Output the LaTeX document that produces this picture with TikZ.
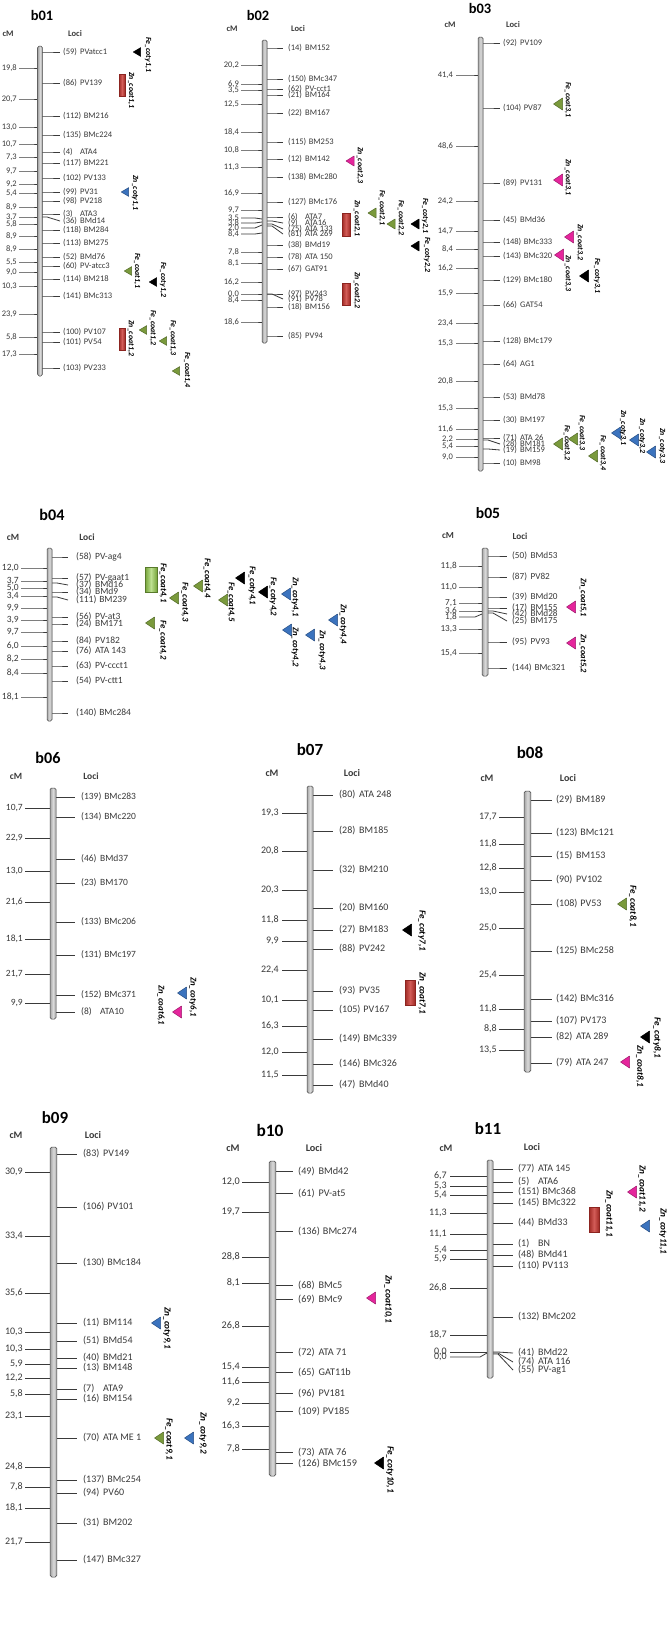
\documentclass[tikz,border=0pt]{standalone}
\usepackage{fontspec}
\setmainfont{Carlito}
\usetikzlibrary{positioning}
\definecolor{inkgray}{HTML}{3A3A3A}
\definecolor{qtlgreen}{HTML}{7A9A3C}
\definecolor{qtlblue}{HTML}{3B73BE}
\definecolor{qtlpink}{HTML}{E5259C}
\definecolor{qtlred}{HTML}{C8342E}
\definecolor{qtllime}{HTML}{92CC47}

% font sizes of one map
\newcommand{\setmapfont}[1]{\def\fsz{#1}\pgfmathsetmacro\fst{1.7*#1}\pgfmathsetmacro\fsq{0.92*#1}}
% locus number, padded
\newcommand{\locnum}[1]{\setbox0=\hbox{(#1)}\ifdim\wd0<1.7em\hbox to 1.7em{(#1)\hfil}\else\box0\fi\hspace{0.3em}}
% cM ticks: label x, tick start, bar left, list yl/yb/a/b
\newcommand{\cmside}[4]{\foreach \yl/\yb/\va/\vb [count=\k] in {#4}{
    \draw[tick] (#2,\yl) -- (#3-7,\yl) -- (#3,\yb);
    \node[cmlab] (cm\mapid-\k) at (#1,\yl) {\va,\vb};}}
% loci ticks: bar right, tick end, label x, list yb/yl/n/name
\newcommand{\locside}[4]{\foreach \yb/\yl/\nn/\nm [count=\k] in {#4}{
    \draw[tick] (#1,\yb) -- (#1+5,\yb) -- (#2,\yl);
    \node[loclab] (loc\mapid-\k) at (#3,\yl) {\locnum{\nn}\nm};}}
\newcommand{\chrom}[4]{\path[chrbar] (#1-#4,#2) rectangle (#1+#4,#3);}
\newcommand{\qtltri}[6]{%
  \filldraw[fill=#3,draw=#3!70!black,line width=0.5pt,line join=round]
    (#1-\trw,#2) -- (#1+\trw,#2-\trh) -- (#1+\trw,#2+\trh) -- cycle;
  \node[qtllab] (q#1-#2) at (#4,#5) {#6};}
\newcommand{\qtlbox}[8]{\path[#5] (#1,#2) rectangle (#3,#4);
  \node[qtllab] (qb#1-#2) at (#6,#7) {#8};}

\begin{document}
\begin{tikzpicture}[x=1pt,y=-1pt,
  mapttl/.style={font=\fontsize{\fst pt}{\fst pt}\selectfont\bfseries,text=black,inner sep=0pt},
  maphdr/.style={font=\fontsize{\fsz pt}{\fsz pt}\selectfont\bfseries,text=inkgray,inner sep=0pt},
  cmlab/.style={font=\fontsize{\fsz pt}{\fsz pt}\selectfont,text=inkgray,inner sep=0pt,anchor=east},
  loclab/.style={font=\fontsize{\fsz pt}{\fsz pt}\selectfont,text=inkgray,inner sep=0pt,anchor=west},
  qtllab/.style={font=\fontsize{\fsq pt}{\fsq pt}\selectfont\bfseries\itshape,text=black,
                 rotate=-90,anchor=west,inner sep=0pt},
  tick/.style={inkgray,line width=0.8pt},
  chrbar/.style={draw=gray!55!black,line width=0.5pt,left color=gray!70,right color=gray!70,
                 middle color=gray!30,rounded corners=1.5pt},
  redbar/.style={draw=qtlred!70!black,line width=0.4pt,left color=qtlred!80!black,
                 right color=qtlred!80!black,middle color=qtlred!80!white},
  limebar/.style={draw=qtllime!60!black,line width=0.4pt,left color=qtllime!80!black,
                 right color=qtllime!80!black,middle color=qtllime!60!white}
]
\useasboundingbox[fill=white] (0,0) rectangle (669,1638);
\def\trw{4.5}\def\trh{6}

% b01
\begin{scope}
\setmapfont{8.5}\def\mapid{b01}\def\trw{3.7}\def\trh{4.4}
\node[mapttl] (ttl-b01) at (42,15) {b01};
\node[maphdr] (cmh-b01) at (8,34) {cM};
\node[maphdr] (loci-b01) at (75,34) {Loci};
\cmside{17}{19}{38}{68/68/19/8, 99/99/20/7, 127/127/13/0, 144/144/10/7, 157/157/7/3,
  171/171/9/7, 184/184/9/2, 193/193/5/4, 207/207/8/9, 217/217/3/7, 224/224/5/8,
  236/236/8/9, 249/249/8/9, 262/262/5/5, 272/272/9/0, 286/286/10/3, 314/314/23/9,
  337/337/5/8, 354/354/17/3}
\locside{42}{60}{63}{52/52/59/PVatcc1, 83/83/86/PV139, 116/116/112/BM216, 135/135/135/BMc224,
  152/152/4/ATA4, 163/163/117/BM221, 178/178/102/PV133, 192/192/99/PV31, 201/201/98/PV218,
  214/214/3/ATA3, 217/221/36/BMd14, 230/230/118/BM284, 243/243/113/BM275, 257/257/52/BMd76,
  266/266/60/PV-atcc3, 279/279/114/BM218, 296/296/141/BMc313, 332/332/100/PV107,
  342/342/101/PV54, 368/368/103/PV233}
\chrom{40}{46}{376}{2.3}
\qtltri{137}{52}{black}{148}{37}{Fe\_coty1,1}
\qtlbox{119}{74}{125}{96}{redbar}{131}{72}{Zn\_coat1,1}
\qtltri{125}{192}{qtlblue}{135}{175}{Zn\_coty1,1}
\qtltri{128}{271}{qtlgreen}{137}{253}{Fe\_coat1,1}
\qtltri{153}{282}{black}{163}{262}{Fe\_coty1,2}
\qtlbox{119}{328}{125}{350}{redbar}{131}{320}{Zn\_coat1,2}
\qtltri{143}{330}{qtlgreen}{153}{310}{Fe\_coat1,2}
\qtltri{163}{341}{qtlgreen}{173}{320}{Fe\_coat1,3}
\qtltri{176}{371}{qtlgreen}{187}{352}{Fe\_coat1,4}
\end{scope}

% b02
\begin{scope}
\setmapfont{8.5}\def\mapid{b02}\def\trw{4}\def\trh{5}
\node[mapttl] (ttl-b02) at (258,15) {b02};
\node[maphdr] (cmh-b02) at (232,29) {cM};
\node[maphdr] (loci-b02) at (298,29) {Loci};
\cmside{239}{241}{262}{65/65/20/2, 84/84/6/9, 90/90/3/5, 104/104/12/5, 132/132/18/4,
  150/150/10/8, 167/167/11/3, 193/193/16/9, 210/210/9/7, 218/219/3/5, 223/222/3/8,
  228/225/2/0, 234/233/8/4, 252/252/7/8, 263/263/8/1, 282/282/16/2, 294/294/0/0,
  300/300/8/4, 322/322/18/6}
\locside{267}{283}{288}{48/48/14/BM152, 79/79/150/BMc347, 89/89/62/PV-cct1, 95/95/21/BM164,
  113/113/22/BM167, 142/142/115/BM253, 159/159/12/BM142, 177/177/138/BMc280,
  202/202/127/BMc176, 217/217/6/ATA7, 221/223/9/ATA16, 224/229/75/ATA 133,
  226/234/81/ATA 269, 245/245/38/BMd19, 257/257/78/ATA 150, 269/269/67/GAT91,
  294/294/97/PV243, 294/299/91/PV78, 307/307/18/BM156, 336/336/85/PV94}
\chrom{264.5}{40}{343}{2.5}
\qtltri{350}{161}{qtlpink}{360}{147}{Zn\_coat2,3}
\qtlbox{342}{213}{350}{236}{redbar}{357}{200}{Zn\_coat2,1}
\qtltri{372}{213}{qtlgreen}{382}{190}{Fe\_coat2,1}
\qtltri{391}{224}{qtlgreen}{401}{200}{Fe\_coat2,2}
\qtltri{415}{224}{black}{425}{198}{Fe\_coty2,1}
\qtltri{415}{246}{black}{427}{237}{Fe\_coty2,2}
\qtlbox{342}{283}{350}{305}{redbar}{357}{272}{Zn\_coat2,2}
\end{scope}

% b03
\begin{scope}
\setmapfont{8.5}\def\mapid{b03}
\node[mapttl] (ttl-b03) at (480,8) {b03};
\node[maphdr] (cmh-b03) at (450,25) {cM};
\node[maphdr] (loci-b03) at (513,25) {Loci};
\cmside{453}{456}{478}{75/75/41/4, 146/146/48/6, 201/201/24/2, 231/231/14/7, 249/249/8/4,
  268/268/16/2, 293/293/15/9, 323/323/23/4, 343/343/15/3, 381/381/20/8, 408/408/15/3,
  429/429/11/6, 439/439/2/2, 446/446/5/4, 457/457/9/0}
\locside{483}{500}{503}{43/43/92/PV109, 108/108/104/PV87, 183/183/89/PV131, 220/220/45/BMd36,
  242/242/148/BMc333, 256/256/143/BMc320, 280/280/129/BMc180, 305/305/66/GAT54,
  341/341/128/BMc179, 364/364/64/AG1, 397/397/53/BMd78, 420/420/30/BM197,
  438/438/71/ATA 26, 440/444/28/BM181, 449/450/19/BM159, 463/463/10/BM98}
\chrom{480.5}{37}{471}{2.5}
\qtltri{558}{104}{qtlgreen}{568}{82}{Fe\_coat3,1}
\qtltri{558}{180}{qtlpink}{568}{159}{Zn\_coat3,1}
\qtltri{569}{237}{qtlpink}{580}{224}{Zn\_coat3,2}
\qtltri{559}{255}{qtlpink}{568}{255}{Zn\_coat3,3}
\qtltri{584}{276}{black}{597}{258}{Fe\_coty3,1}
\qtltri{558}{444}{qtlgreen}{567}{425}{Fe\_coat3,2}
\qtltri{573}{439}{qtlgreen}{582}{415}{Fe\_coat3,3}
\qtltri{593}{456}{qtlgreen}{603}{435}{Fe\_coat3,4}
\qtltri{616}{433}{qtlblue}{623}{410}{Zn\_coty3,1}
\qtltri{634}{440}{qtlblue}{642}{418}{Zn\_coty3,2}
\qtltri{651}{452}{qtlblue}{662}{428}{Zn\_coty3,3}
\end{scope}

% b04
\begin{scope}
\setmapfont{9.5}\def\mapid{b04}
\node[mapttl] (ttl-b04) at (52,515) {b04};
\node[maphdr] (cmh-b04) at (13,537) {cM};
\node[maphdr] (loci-b04) at (87,537) {Loci};
\cmside{19}{21}{47}{568/568/12/0, 581/581/3/7, 588/588/5/0, 596/596/3/4, 608/608/9/9,
  620/620/3/9, 632/632/9/7, 646/646/6/0, 659/659/8/2, 673/673/8/4, 697/697/18/1}
\locside{52}{68}{76}{557/557/58/PV-ag4, 578/578/57/PV-gaat1, 583/585/37/BMd16, 592/592/34/BMd9,
  597/600/111/BM239, 617/617/56/PV-at3, 624/624/24/BM171, 641/641/84/PV182,
  651/651/76/ATA 143, 666/666/63/PV-ccct1, 681/681/54/PV-ctt1, 713/713/140/BMc284}
\chrom{49.5}{548}{721}{2.5}
\qtlbox{145}{567}{157}{592}{limebar}{163}{563}{Fe\_coat4,1}
\qtltri{150}{623}{qtlgreen}{163}{620}{Fe\_coat4,2}
\qtltri{174}{598}{qtlgreen}{185}{582}{Fe\_coat4,3}
\qtltri{198}{586}{qtlgreen}{207}{558}{Fe\_coat4,4}
\qtltri{223}{600}{qtlgreen}{231}{582}{Fe\_coat4,5}
\qtltri{240}{578}{black}{252}{566}{Fe\_coty4,1}
\qtltri{263}{592}{black}{273}{577}{Fe\_coty4,2}
\qtltri{286}{594}{qtlblue}{295}{577}{Zn\_coty4,1}
\qtltri{287}{630}{qtlblue}{295}{627}{Zn\_coty4,2}
\qtltri{310}{635}{qtlblue}{322}{630}{Zn\_coty4,3}
\qtltri{333}{620}{qtlblue}{343}{604}{Zn\_coty4,4}
\end{scope}

% b05
\begin{scope}
\setmapfont{9.2}\def\mapid{b05}
\node[mapttl] (ttl-b05) at (488,513) {b05};
\node[maphdr] (cmh-b05) at (448,536) {cM};
\node[maphdr] (loci-b05) at (520,536) {Loci};
\cmside{457}{459}{482}{566/566/11/8, 587/587/11/0, 603/603/7/1, 611/611/3/6, 617/614/1/8,
  629/629/13/3, 653/653/15/4}
\locside{488}{507}{512}{556/556/50/BMd53, 577/577/87/PV82, 597/597/39/BMd20, 608/608/17/BM155,
  611/614/42/BMd28, 613/621/25/BM175, 642/642/95/PV93, 668/668/144/BMc321}
\chrom{485}{548}{676}{3}
\qtltri{571}{607}{qtlpink}{583}{578}{Zn\_coat5,1}
\qtltri{571}{643}{qtlpink}{583}{634}{Zn\_coat5,2}
\end{scope}

% b06
\begin{scope}
\setmapfont{9.5}\def\mapid{b06}
\node[mapttl] (ttl-b06) at (48,758) {b06};
\node[maphdr] (cmh-b06) at (16,776) {cM};
\node[maphdr] (loci-b06) at (91,776) {Loci};
\cmside{23}{25}{50}{808/808/10/7, 838/838/22/9, 871/871/13/0, 902/902/21/6, 939/939/18/1,
  974/974/21/7, 1003/1003/9/9}
\locside{56}{75}{81}{797/797/139/BMc283, 817/817/134/BMc220, 859/859/46/BMd37, 883/883/23/BM170,
  922/922/133/BMc206, 955/955/131/BMc197, 995/995/152/BMc371, 1012/1012/8/ATA10}
\chrom{53}{788}{1019}{3}
\qtltri{182}{993}{qtlblue}{193}{977}{Zn\_coty6,1}
\qtltri{177}{1012}{qtlpink}{161}{985}{Zn\_coat6,1}
\end{scope}

% b07
\begin{scope}
\setmapfont{10}\def\mapid{b07}
\node[mapttl] (ttl-b07) at (310,750) {b07};
\node[maphdr] (cmh-b07) at (272,773) {cM};
\node[maphdr] (loci-b07) at (352,773) {Loci};
\cmside{279}{282}{307}{813/813/19/3, 851/851/20/8, 890/890/20/3, 920/920/11/8, 941/941/9/9,
  970/970/22/4, 1000/1000/10/1, 1026/1026/16/3, 1052/1052/12/0, 1075/1075/11/5}
\locside{313}{333}{339}{795/795/80/ATA 248, 831/831/28/BM185, 870/870/32/BM210,
  908/908/20/BM160, 930/930/27/BM183, 949/949/88/PV242, 991/991/93/PV35,
  1010/1010/105/PV167, 1039/1039/149/BMc339, 1064/1064/146/BMc326, 1085/1085/47/BMd40}
\chrom{310}{786}{1093}{3}
\qtltri{407}{930}{black}{422}{910}{Fe\_coty7,1}
\qtlbox{405}{980}{415}{1005}{redbar}{422}{972}{Zn\_coat7,1}
\end{scope}

% b08
\begin{scope}
\setmapfont{10}\def\mapid{b08}
\node[mapttl] (ttl-b08) at (530,753) {b08};
\node[maphdr] (cmh-b08) at (487,778) {cM};
\node[maphdr] (loci-b08) at (568,778) {Loci};
\cmside{497}{499}{524}{817/817/17/7, 844/844/11/8, 868/868/12/8, 892/892/13/0, 928/928/25/0,
  975/975/25/4, 1009/1009/11/8, 1029/1029/8/8, 1050/1050/13/5}
\locside{531}{552}{556}{800/800/29/BM189, 833/833/123/BMc121, 856/856/15/BM153,
  880/880/90/PV102, 904/904/108/PV53, 951/951/125/BMc258, 999/999/142/BMc316,
  1021/1021/107/PV173, 1037/1037/82/ATA 289, 1063/1063/79/ATA 247}
\chrom{527.5}{791}{1072}{3.3}
\qtltri{622}{904}{qtlgreen}{633}{885}{Fe\_coat8,1}
\qtltri{645}{1037}{black}{657}{1017}{Fe\_coty8,1}
\qtltri{625}{1062}{qtlpink}{640}{1045}{Zn\_coat8,1}
\end{scope}

% b09
\begin{scope}
\setmapfont{10}\def\mapid{b09}
\node[mapttl] (ttl-b09) at (55,1118) {b09};
\node[maphdr] (cmh-b09) at (16,1135) {cM};
\node[maphdr] (loci-b09) at (93,1135) {Loci};
\cmside{23}{25}{50}{1172/1172/30/9, 1236/1236/33/4, 1293/1293/35/6, 1332/1332/10/3,
  1349/1349/10/3, 1364/1364/5/9, 1378/1378/12/2, 1394/1394/5/8, 1416/1416/23/1,
  1467/1467/24/8, 1487/1487/7/8, 1508/1508/18/1, 1542/1542/21/7}
\locside{57}{77}{83}{1154/1154/83/PV149, 1207/1207/106/PV101, 1263/1263/130/BMc184,
  1323/1323/11/BM114, 1341/1341/51/BMd54, 1358/1358/40/BMd21, 1368/1368/13/BM148,
  1389/1389/7/ATA9, 1399/1399/16/BM154, 1438/1438/70/ATA ME 1, 1480/1480/137/BMc254,
  1493/1493/94/PV60, 1523/1523/31/BM202, 1560/1560/147/BMc327}
\chrom{53.5}{1147}{1577}{3.3}
\qtltri{156}{1323}{qtlblue}{167}{1307}{Zn\_coty9,1}
\qtltri{159}{1438}{qtlgreen}{169}{1418}{Fe\_coat9,1}
\qtltri{189}{1438}{qtlblue}{203}{1412}{Zn\_coty9,2}
\end{scope}

% b10
\begin{scope}
\setmapfont{10.2}\def\mapid{b10}
\node[mapttl] (ttl-b10) at (270,1130) {b10};
\node[maphdr] (cmh-b10) at (233,1148) {cM};
\node[maphdr] (loci-b10) at (314,1148) {Loci};
\cmside{240}{242}{269}{1182/1182/12/0, 1212/1212/19/7, 1257/1257/28/8, 1283/1283/8/1,
  1326/1326/26/8, 1367/1367/15/4, 1382/1382/11/6, 1403/1403/9/2, 1426/1426/16/3,
  1449/1449/7/8}
\locside{276}{293}{298}{1171/1171/49/BMd42, 1193/1193/61/PV-at5, 1231/1231/136/BMc274,
  1285/1285/68/BMc5, 1299/1299/69/BMc9, 1352/1352/72/ATA 71, 1372/1372/65/GAT11b,
  1393/1393/96/PV181, 1411/1411/109/PV185, 1452/1452/73/ATA 76, 1463/1463/126/BMc159}
\chrom{272.5}{1161}{1476}{3.3}
\qtltri{371}{1298}{qtlpink}{388}{1275}{Zn\_coat10,1}
\qtltri{379}{1463}{black}{390}{1446}{Fe\_coty10,1}
\end{scope}

% b11
\begin{scope}
\setmapfont{10}\def\mapid{b11}
\node[mapttl] (ttl-b11) at (488,1129) {b11};
\node[maphdr] (cmh-b11) at (446,1148) {cM};
\node[maphdr] (loci-b11) at (532,1147) {Loci};
\cmside{447}{450}{487}{1176/1176/6/7, 1186/1186/5/3, 1195/1195/5/4, 1213/1213/11/3,
  1234/1234/11/1, 1250/1250/5/4, 1259/1259/5/9, 1288/1288/26/8, 1335/1335/18/7,
  1352/1352/0/0, 1357/1353/0/0}
\locside{493}{513}{518}{1169/1169/77/ATA 145, 1182/1182/5/ATA6, 1192/1192/151/BMc368,
  1203/1203/145/BMc322, 1223/1223/44/BMd33, 1244/1244/1/BN, 1255/1255/48/BMd41,
  1266/1266/110/PV113, 1317/1317/132/BMc202, 1352/1353/41/BMd22, 1353/1362/74/ATA 116,
  1354/1370/55/PV-ag1}
\chrom{490}{1160}{1378}{3}
\qtltri{632}{1192}{qtlpink}{642}{1165}{Zn\_coat11,2}
\qtlbox{589}{1207}{599}{1232}{redbar}{609}{1190}{Zn\_coat11,1}
\qtltri{645}{1226}{qtlblue}{663}{1208}{Zn\_coty11,1}
\end{scope}
\end{tikzpicture}
\end{document}
